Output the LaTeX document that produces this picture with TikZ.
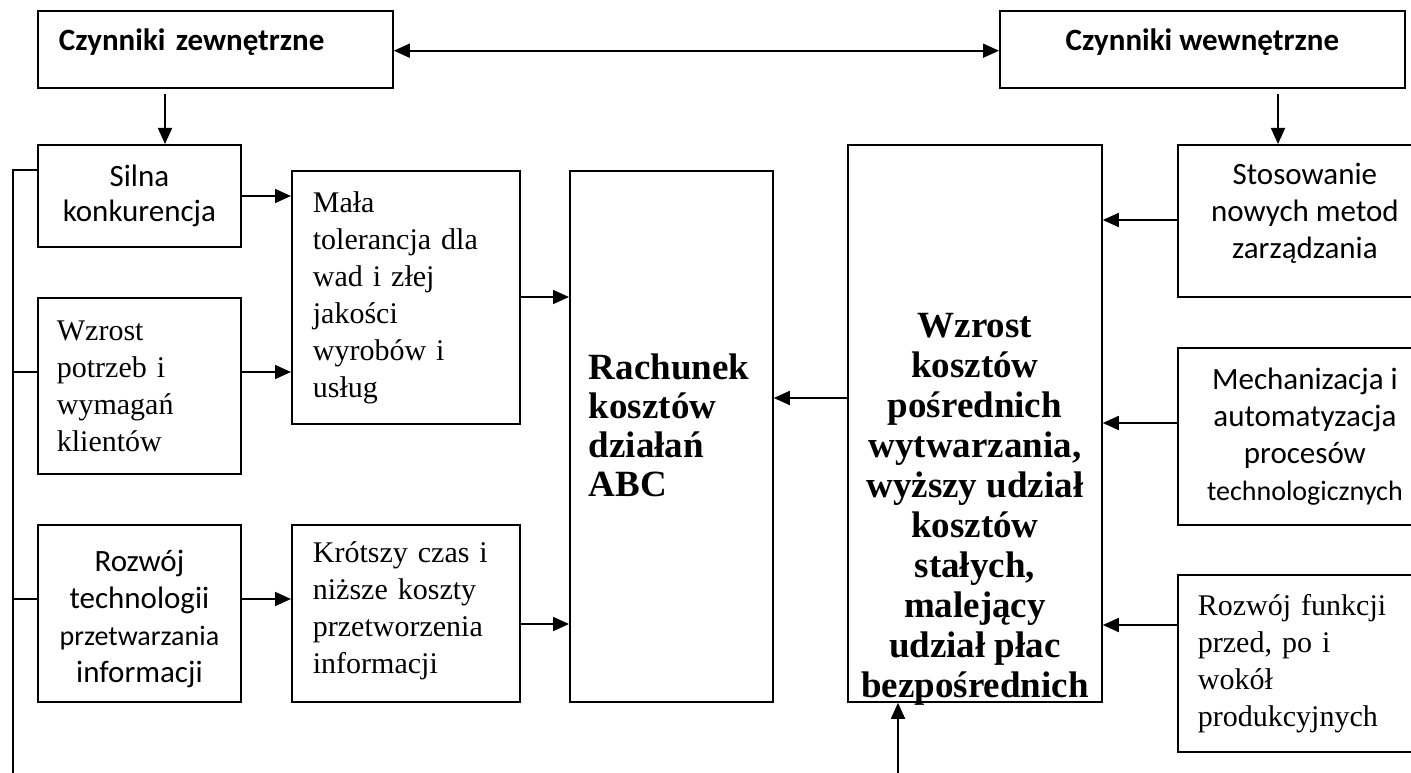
\documentclass[tikz,border=0pt]{standalone}
\usepackage{fontspec}
\setmainfont{Liberation Serif}
\newfontfamily\calfont{Carlito}
\usetikzlibrary{arrows.meta}
\tikzset{
  box/.style={draw, line width=1.8pt, inner sep=0pt, anchor=north west},
  ln/.style={line width=1.8pt},
  arr/.style={line width=1.8pt, -{Triangle[length=16pt,width=14pt]}},
  arrb/.style={line width=1.8pt, {Triangle[length=16pt,width=14pt]}-{Triangle[length=16pt,width=14pt]}},
  calhead/.style={font=\calfont\bfseries\fontsize{31}{36}\selectfont},
  calreg/.style={font=\calfont\fontsize{31}{37}\selectfont},
  serreg/.style={font=\fontsize{30}{37}\selectfont},
}
\begin{document}
\begin{tikzpicture}[x=1pt,y=-1pt]
\useasboundingbox (0,0) rectangle (1411,773);
\fill[white] (0,0) rectangle (1411,773);
\clip (0,0) rectangle (1411,773);

% top boxes
\node[box, calhead, minimum width=355pt, minimum height=77pt, text width=313pt, inner xsep=21pt, align=left, text height=23pt, text depth=20pt] (zew) at (37,10) {Czynniki zewnętrzne};
\node[box, calhead, minimum width=405pt, minimum height=77pt, align=center, text height=23pt, text depth=20pt] (wew) at (999,10) {Czynniki wewnętrzne};

% left column
\node[box, font=\calfont\fontsize{31}{35}\selectfont, minimum width=203pt, minimum height=102pt, align=center] (silna) at (37,144) {Silna\\konkurencja};
\node[box, serreg, minimum width=203pt, minimum height=176pt, text width=165pt, inner xsep=19pt, align=left] (wzrost) at (37,297) {Wzrost\\potrzeb i\\wymagań\\klientów};
\node[box, calreg, minimum width=203pt, minimum height=177pt, align=center, text height=143pt] (rozwoj) at (37,524) {Rozwój\\technologii\\{\fontsize{28}{37}\selectfont przetwarzania}\\informacji};

% second column
\node[box, serreg, minimum width=228pt, minimum height=253pt, text width=186pt, inner xsep=21pt, align=left] (mala) at (291,170) {Mała\\tolerancja dla\\wad i złej\\jakości\\wyrobów i\\usług};
\node[box, serreg, minimum width=228pt, minimum height=177pt, text width=186pt, inner xsep=21pt, align=left, text depth=122pt] (krot) at (291,524) {Krótszy czas i\\niższe koszty\\przetworzenia\\informacji};

% centre
\node[box, font=\bfseries\fontsize{37}{39}\selectfont, minimum width=203pt, minimum height=531pt, text width=165pt, inner xsep=19pt, align=left, text depth=139pt] (rach) at (569,170) {Rachunek\\kosztów\\działań\\ABC};

% big box
\node[box, minimum width=254pt, minimum height=557pt] (big) at (847,144) {};
\node[anchor=south, align=center, inner sep=0pt, font=\bfseries\fontsize{37}{40}\selectfont] (bigtxt) at ([yshift=-3pt]big.south) {Wzrost\\kosztów\\pośrednich\\wytwarzania,\\wyższy udział\\kosztów\\stałych,\\malejący\\udział płac\\bezpośrednich};

% right column
\node[box, calreg, minimum width=254pt, minimum height=152pt, align=center, text depth=21pt] (stos) at (1177,144) {Stosowanie\\nowych metod\\zarządzania};
\node[box, calreg, minimum width=254pt, minimum height=177pt, align=center] (mech) at (1177,347) {Mechanizacja i\\automatyzacja\\procesów\\{\fontsize{28}{37}\selectfont technologicznych}};
\node[box, serreg, minimum width=254pt, minimum height=177pt, text width=214pt, inner xsep=20pt, align=left] (rfun) at (1177,574) {Rozwój funkcji\\przed, po i\\wokół\\produkcyjnych};

% coordinates
\coordinate (trunkTop) at (13,170);
\coordinate (trunkBot) at (13,773);
\coordinate (d1) at (165,94);
\coordinate (d2) at (1278,94);
\coordinate (b1) at (898,773);

% connectors
\draw[arrb] (zew.east |- 0,50.7) -- (wew.west |- 0,50.7);
\draw[arr] (d1) -- (d1 |- silna.north);
\draw[arr] (d2) -- (d2 |- stos.north);

\draw[ln] (silna.west |- trunkTop) -- (trunkTop) -- (trunkBot);
\draw[ln] (wzrost.west |- 0,372) -- (trunkTop |- 0,372);
\draw[ln] (rozwoj.west |- 0,599) -- (trunkTop |- 0,599);

\draw[arr] (silna.east |- 0,196) -- (mala.west |- 0,196);
\draw[arr] (wzrost.east |- 0,372) -- (mala.west |- 0,372);
\draw[arr] (rozwoj.east |- 0,599) -- (krot.west |- 0,599);

\draw[arr] (mala.east |- 0,297) -- (rach.west |- 0,297);
\draw[arr] (krot.east |- 0,624) -- (rach.west |- 0,624);

\draw[arr] (big.west |- 0,398) -- (rach.east |- 0,398);

\draw[arr] (stos.west |- 0,220) -- (big.east |- 0,220);
\draw[arr] (mech.west |- 0,423) -- (big.east |- 0,423);
\draw[arr] (rfun.west |- 0,625) -- (big.east |- 0,625);

\draw[arr] (b1) -- (b1 |- big.south);
\end{tikzpicture}
\end{document}
